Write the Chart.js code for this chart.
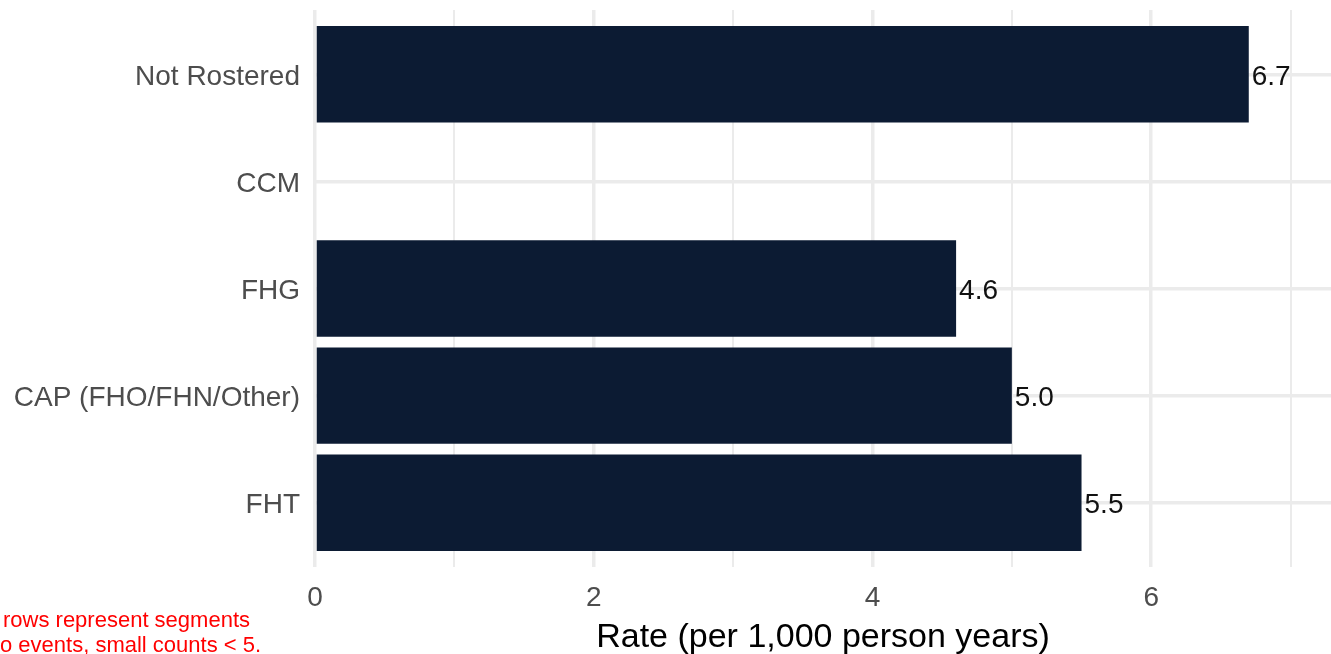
<!DOCTYPE html>
<html>
<head>
<meta charset="utf-8">
<script src="https://cdn.jsdelivr.net/npm/chart.js@4.4.1/dist/chart.umd.min.js"></script>
<style>
  body { margin: 0; background: #fff; }
  #wrap { position: relative; width: 1331px; height: 654px; overflow: hidden; }
  .note { position: absolute; font: 22px "Liberation Sans", Arial, sans-serif; color: #ff0000; line-height: 25px; white-space: nowrap; }
</style>
</head>
<body>
<div id="wrap">
  <canvas id="rateChart" width="1331" height="654"></canvas>
  <div class="note" style="left:3px; top:607px;">rows represent segments</div>
  <div class="note" style="left:0px; top:632px;">o events, small counts &lt; 5.</div>
</div>
<script>
// Chart data (top to bottom)
const categories = ['Not Rostered', 'CCM', 'FHG', 'CAP (FHO/FHN/Other)', 'FHT'];
const rates = [6.7, null, 4.6, 5.0, 5.5];
const xTicks = [0, 1, 2, 3, 4, 5, 6, 7];

const FONT = '"Liberation Sans", Arial, sans-serif';

// Draw value labels just right of each bar
const valueLabels = {
    id: 'valueLabels',
    afterDatasetsDraw(chart) {
        const ctx = chart.ctx;
        const meta = chart.getDatasetMeta(0);
        ctx.save();
        ctx.font = '28px ' + FONT;
        ctx.fillStyle = '#111111';
        ctx.textAlign = 'left';
        ctx.textBaseline = 'middle';
        meta.data.forEach((bar, i) => {
            if (rates[i] == null) return;
            ctx.fillText(rates[i].toFixed(1), bar.x + 3, bar.y + 3);
        });
        ctx.restore();
    }
};

const ctx = document.getElementById('rateChart').getContext('2d');
new Chart(ctx, {
    type: 'bar',
    data: {
        datasets: [{
            data: rates.map((v, i) => ({ x: v, y: i })),
            backgroundColor: '#0c1b33',
            borderWidth: 0,
            barPercentage: 1,
            categoryPercentage: 0.9
        }]
    },
    options: {
        indexAxis: 'y',
        responsive: false,
        animation: false,
        layout: { padding: { top: 10, right: 0, bottom: 0, left: 0 } },
        plugins: {
            legend: { display: false },
            tooltip: { enabled: false }
        },
        scales: {
            x: {
                type: 'linear',
                min: 0,
                max: 7.29,
                afterBuildTicks: scale => { scale.ticks = xTicks.map(v => ({ value: v })); },
                afterFit: scale => {
                    scale.height = 87;
                    scale.paddingLeft = 0;
                    scale.paddingRight = 0;
                },
                border: { display: false },
                grid: {
                    color: '#ebebeb',
                    lineWidth: c => (c.tick && c.tick.value % 2 === 0) ? 3.5 : 2,
                    drawTicks: false
                },
                ticks: {
                    autoSkip: false,
                    maxRotation: 0,
                    padding: 14,
                    color: '#4d4d4d',
                    font: { family: FONT, size: 28 },
                    callback: v => (v % 2 === 0 ? String(v) : '')
                },
                title: {
                    display: true,
                    text: 'Rate (per 1,000 person years)',
                    color: '#000000',
                    font: { family: FONT, size: 34 },
                    padding: { top: 0, bottom: -4 }
                }
            },
            y: {
                type: 'linear',
                min: -0.6,
                max: 4.6,
                reverse: true,
                offset: false,
                afterBuildTicks: scale => { scale.ticks = categories.map((c, i) => ({ value: i })); },
                afterFit: scale => {
                    scale.width = 315;
                    scale.paddingTop = 0;
                    scale.paddingBottom = 0;
                },
                border: { display: false },
                grid: {
                    offset: false,
                    color: '#ebebeb',
                    lineWidth: 3.5,
                    drawTicks: false
                },
                ticks: {
                    autoSkip: false,
                    padding: 15,
                    labelOffset: 3,
                    color: '#4d4d4d',
                    font: { family: FONT, size: 28 },
                    callback: v => categories[v]
                }
            }
        }
    },
    plugins: [valueLabels]
});
</script>
</body>
</html>
